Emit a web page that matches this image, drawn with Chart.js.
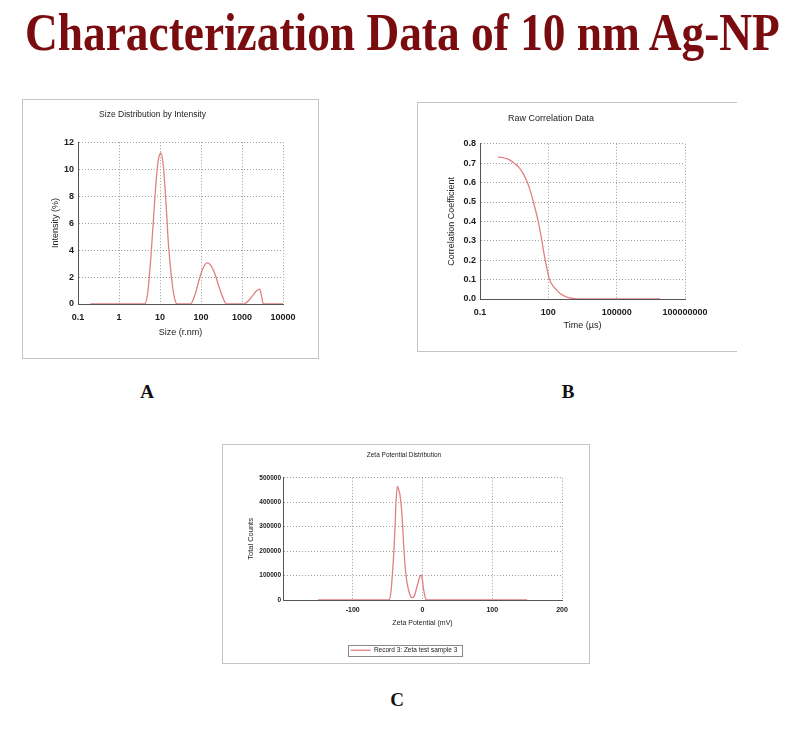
<!DOCTYPE html>
<html>
<head>
<meta charset="utf-8">
<script src="https://cdn.jsdelivr.net/npm/chart.js@4"></script>
<style>
  body { margin: 0; background: #fff; }
  #page { position: relative; width: 800px; height: 729px; overflow: hidden; }
  #heading {
    position: absolute; left: 25px; top: 2px; white-space: nowrap;
    font: bold 53px "Liberation Serif", "Times New Roman", serif;
    color: rgb(122, 12, 16); transform-origin: 0 0;
  }
  .frame { position: absolute; box-sizing: border-box; border: 1.5px solid #c4c4c4; }
  .panel { position: absolute; }
  .tag {
    position: absolute; font: bold 19px "Liberation Serif", "Times New Roman", serif;
    color: #111; transform: translate(-50%, -50%);
  }
</style>
</head>
<body>
<div id="page">
  <div id="heading">Characterization Data of 10 nm Ag-NP</div>

  <div class="frame" style="left:22px; top:99px; width:297px; height:260px;"></div>
  <canvas id="sizeChart" class="panel" width="296" height="259" style="left:22px; top:99px;"></canvas>

  <div class="frame" style="left:417px; top:102px; width:320px; height:250px; border-right:none;"></div>
  <canvas id="corrChart" class="panel" width="316" height="249" style="left:417px; top:102px;"></canvas>

  <div class="frame" style="left:222px; top:444px; width:368px; height:220px;"></div>
  <canvas id="zetaChart" class="panel" width="367" height="219" style="left:222px; top:444px;"></canvas>

  <div class="tag" style="left:147px; top:392px;">A</div>
  <div class="tag" style="left:568px; top:392px;">B</div>
  <div class="tag" style="left:397px; top:700px;">C</div>
</div>

<script>
// A: size distribution by intensity
const sizeNm = [0.2, 1, 4.2, 5, 6, 7, 8, 9, 10.5, 12, 14, 16, 19, 22, 26,
  55, 70, 90, 110, 140, 170, 220, 280, 350, 420,
  1100, 1500, 1900, 2300, 2700, 3000, 3300, 10000];
const intensityPct = [0, 0, 0, 0.8, 3.5, 6.5, 9, 10.6, 11.2, 10.3, 7.5, 4.5, 2, 0.6, 0,
  0, 0.6, 1.8, 2.6, 3.05, 2.9, 2.2, 1.2, 0.4, 0,
  0, 0.3, 0.7, 1.0, 1.1, 0.6, 0, 0];
const sizeTicks = [0.1, 1, 10, 100, 1000, 10000];

// B: raw correlation data
const timeUs = [0.62, 1, 1.6, 2.3, 3.2, 5, 8, 12, 16, 22, 36, 52, 73, 113,
  160, 215, 300, 430, 700, 1400, 3000, 8000000];
const corrCoef = [0.732, 0.729, 0.722, 0.712, 0.7, 0.68, 0.645, 0.6, 0.56, 0.5, 0.4, 0.3, 0.2, 0.1,
  0.068, 0.05, 0.032, 0.02, 0.008, 0.002, 0, 0];
const timeTicks = [0.1, 100, 100000, 100000000];

// C: zeta potential distribution
const zetaMv = [-150, -100, -50, -47.5, -45, -43.3, -41, -39.4, -38, -36, -34, -32.3, -30, -28.4,
  -26.5, -23.6, -20, -17, -15, -12, -8.3, -5, -2.6, -0.5, 1.2, 3.5, 6, 50, 100, 150];
const zetaCounts = [0, 0, 0, 2000, 40000, 100000, 200000, 300000, 400000, 465000, 450000, 430000, 370000, 300000,
  200000, 100000, 40000, 15000, 10000, 15000, 50000, 85000, 102000, 90000, 50000, 15000, 0, 0, 0, 0];
const zetaTicks = [-200, -100, 0, 100, 200];

const lineRed = "rgb(224,128,128)";
const family = "'Liberation Sans', Arial, sans-serif";

function toPoints(xs, ys) {
  return xs.map((x, i) => ({ x: x, y: ys[i] }));
}

function dataset(label, xs, ys) {
  return {
    label: label,
    data: toPoints(xs, ys),
    borderColor: lineRed,
    backgroundColor: lineRed,
    borderWidth: 1.3,
    pointRadius: 0,
    cubicInterpolationMode: "monotone",
    fill: false
  };
}

// shared look of an axis: dotted grid, solid dark axis line
function axis(fontSize, titleText, titlePad, extra) {
  return Object.assign({
    grid: { color: "#9c9c9c", lineWidth: 1, drawTicks: false },
    border: { color: "#555", width: 1, dash: [1, 2] },
    ticks: { color: "#1a1a1a", font: { family: family, size: fontSize, weight: "bold" }, padding: 4 },
    title: {
      display: true, text: titleText, color: "#222",
      font: { family: family, size: fontSize }, padding: titlePad
    }
  }, extra);
}

function fixedTicks(values) {
  return (scale) => { scale.ticks = values.map((v) => ({ value: v })); };
}

function buildSizeConfig() {
  const x = axis(9, "Size (r.nm)", { top: 0, bottom: 20 }, {
    type: "logarithmic", min: 0.1, max: 10000,
    afterBuildTicks: fixedTicks(sizeTicks),
    afterFit: (s) => { s.height = 54; }
  });
  x.ticks.callback = (v) => String(v);
  x.ticks.padding = 8;
  const y = axis(9, "Intensity (%)", { top: 28, bottom: 0 }, {
    min: 0, max: 12,
    afterFit: (s) => { s.width = 56; }
  });
  y.ticks.stepSize = 2;
  return {
    type: "line",
    data: { datasets: [dataset("Size", sizeNm, intensityPct)] },
    options: {
      animation: false, responsive: false,
      layout: { padding: { left: 0, right: 35, top: 0, bottom: 0 } },
      plugins: {
        legend: { display: false },
        tooltip: { enabled: false },
        title: {
          display: true, text: "Size Distribution by Intensity", color: "#222",
          font: { family: family, size: 8.5, weight: "normal" }, padding: { top: 11, bottom: 22 }
        }
      },
      scales: { x: x, y: y }
    }
  };
}

function buildCorrConfig() {
  const x = axis(9, "Time (µs)", { top: 0, bottom: 20 }, {
    type: "logarithmic", min: 0.1, max: 100000000,
    afterBuildTicks: fixedTicks(timeTicks),
    afterFit: (s) => { s.height = 52; }
  });
  x.ticks.callback = (v) => String(v);
  x.ticks.padding = 8;
  const y = axis(9, "Correlation Coefficient", { top: 29, bottom: 0 }, {
    min: 0, max: 0.8,
    afterFit: (s) => { s.width = 63; }
  });
  y.ticks.stepSize = 0.1;
  y.ticks.callback = (v) => v.toFixed(1);
  return {
    type: "line",
    data: { datasets: [dataset("Correlation", timeUs, corrCoef)] },
    options: {
      animation: false, responsive: false,
      layout: { padding: { left: 0, right: 48, top: 0, bottom: 0 } },
      plugins: {
        legend: { display: false },
        tooltip: { enabled: false },
        title: {
          display: true, text: "Raw Correlation Data", color: "#222",
          font: { family: family, size: 9, weight: "normal" }, padding: { top: 11, bottom: 20 }
        }
      },
      scales: { x: x, y: y }
    }
  };
}

// legend of panel C sits in a thin grey frame
const legendFrame = {
  id: "legendFrame",
  beforeInit(chart) {
    if (!chart.legend) return;
    const fit = chart.legend.fit;
    chart.legend.fit = function () { fit.call(this); this.height = 21; };
  },
  afterDraw(chart) {
    const box = chart.legend && chart.legend.legendHitBoxes[0];
    if (!box) return;
    const ctx = chart.ctx;
    ctx.save();
    ctx.strokeStyle = "#8a8a8a";
    ctx.lineWidth = 1;
    ctx.strokeRect(Math.round(box.left - 3) + 0.5, Math.round(box.top - 2) + 0.5,
      Math.round(box.width + 7), Math.round(box.height + 4));
    ctx.restore();
  }
};

function buildZetaConfig() {
  const x = axis(7.5, "Zeta Potential (mV)", { top: 0, bottom: 15 }, {
    type: "linear", min: -200, max: 200,
    afterBuildTicks: fixedTicks(zetaTicks),
    afterFit: (s) => { s.height = 42; }
  });
  x.ticks.callback = (v) => (v === -200 ? "" : String(v));
  x.ticks.padding = 6;
  x.ticks.font.size = 7;
  x.title.font.size = 7;
  const y = axis(6.5, "Total Counts", { top: 0, bottom: 0 }, {
    min: 0, max: 500000,
    afterFit: (s) => { s.width = 37; }
  });
  y.ticks.stepSize = 100000;
  y.ticks.padding = 2;
  y.ticks.callback = (v) => String(v);
  y.title.font.size = 7.5;
  return {
    type: "line",
    data: { datasets: [dataset("Record 3: Zeta test sample 3", zetaMv, zetaCounts)] },
    options: {
      animation: false, responsive: false,
      layout: { padding: { left: 24, right: 27, top: 0, bottom: 0 } },
      plugins: {
        legend: {
          display: true, position: "bottom",
          labels: {
            color: "#222", font: { family: family, size: 6.5 }, padding: 5,
            usePointStyle: true, pointStyle: "line", pointStyleWidth: 20
          }
        },
        tooltip: { enabled: false },
        title: {
          display: true, text: "Zeta Potential Distribution", color: "#222",
          font: { family: family, size: 6.5, weight: "normal" }, padding: { top: 7, bottom: 19 }
        }
      },
      scales: { x: x, y: y }
    },
    plugins: [legendFrame]
  };
}

function fitHeading() {
  const el = document.getElementById("heading");
  const scale = 755 / el.offsetWidth;
  el.style.transform = "scaleX(" + scale + ")";
}

function publishCharts() {
  new Chart(document.getElementById("sizeChart"), buildSizeConfig());
  new Chart(document.getElementById("corrChart"), buildCorrConfig());
  new Chart(document.getElementById("zetaChart"), buildZetaConfig());
}

fitHeading();
publishCharts();
</script>
</body>
</html>
